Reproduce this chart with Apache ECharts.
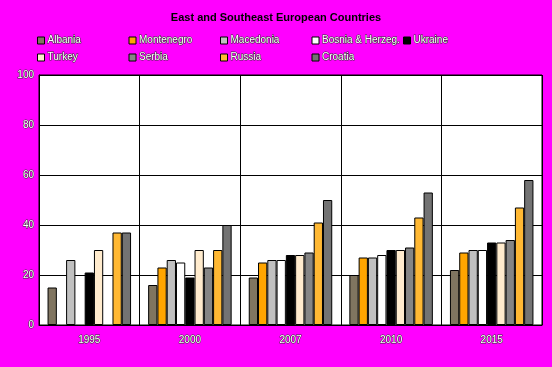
<!DOCTYPE html>
<html><head><meta charset="utf-8">
<script src="https://cdn.jsdelivr.net/npm/echarts@6/dist/echarts.min.js"></script>
<style>html,body{margin:0;padding:0;background:#ff00ff;}#c{width:552px;height:367px;}</style>
</head><body><div id="c"></div>
<script>
const categories = ['1995', '2000', '2007', '2010', '2015'];
const yTicks = [0, 20, 40, 60, 80, 100];
const seriesNames = ['Albania', 'Montenegro', 'Macedonia', 'Bosnia & Herzeg.', 'Ukraine', 'Turkey', 'Serbia', 'Russia', 'Croatia'];
const albania    = [15, 16, 19, 20, 22];
const montenegro = [null, 23, 25, 27, 29];
const macedonia  = [26, 26, 26, 27, 30];
const bosnia     = [null, 25, 26, 28, 30];
const ukraine    = [21, 19, 28, 30, 33];
const turkey     = [30, 30, 28, 30, 33];
const serbia     = [null, 23, 29, 31, 34];
const russia     = [37, 30, 41, 43, 47];
const croatia    = [37, 40, 50, 53, 58];

const values = [albania, montenegro, macedonia, bosnia, ukraine, turkey, serbia, russia, croatia];
const colors = ['#807560', '#ffa500', '#c0c0c0', '#ffffff', '#000000', '#ffebcd', '#858585', '#ffb833', '#737373'];

const textStyleOutlined = {
  color: '#ffffff', fontFamily: 'Liberation Sans, Arial, sans-serif', fontSize: 10,
  textBorderColor: '#333333', textBorderWidth: 1
};

const legends = seriesNames.map((n, i) => {
  const row = i < 5 ? 0 : 1;
  const col = i < 5 ? i : i - 5;
  return {
    data: [n], left: 37 + col * 91.5, top: row === 0 ? 35 : 52,
    icon: 'rect', itemWidth: 7, itemHeight: 7, itemGap: 2,
    padding: 0,
    selectedMode: false,
    itemStyle: { borderColor: '#000', borderWidth: 1 },
    textStyle: Object.assign({}, textStyleOutlined, { padding: [0, 0, 0, -2] })
  };
});

const chart = echarts.init(document.getElementById('c'), null, { renderer: 'canvas' });
chart.setOption({
  backgroundColor: '#ff00ff',
  animation: false,
  title: {
    text: 'East and Southeast European Countries', left: 'center', top: 7,
    textStyle: { fontSize: 11, fontWeight: 'bold', color: '#000', fontFamily: 'Liberation Sans, Arial, sans-serif' }
  },
  legend: legends,
  grid: { left: 39, right: 10, top: 75, bottom: 42, containLabel: false, show: true, backgroundColor: '#ffffff', borderColor: '#000', borderWidth: 1 },
  xAxis: {
    type: 'category', data: categories,
    axisLine: { show: true, lineStyle: { color: '#000', width: 1 } },
    axisTick: { show: false },
    splitLine: { show: true, interval: 0, lineStyle: { color: '#000', width: 1 } },
    axisLabel: Object.assign({ margin: 10 }, textStyleOutlined)
  },
  yAxis: {
    type: 'value', min: yTicks[0], max: yTicks[yTicks.length - 1], interval: 20,
    axisLine: { show: true, lineStyle: { color: '#000', width: 1 } },
    axisTick: { show: false },
    splitLine: { show: true, lineStyle: { color: '#000', width: 1 } },
    axisLabel: Object.assign({ margin: 5 }, textStyleOutlined)
  },
  series: seriesNames.map((n, i) => ({
    name: n, type: 'bar', data: values[i],
    barGap: '0%', barCategoryGap: '17%',
    itemStyle: { color: colors[i], borderColor: '#000', borderWidth: 1 }
  }))
});
</script></body></html>
